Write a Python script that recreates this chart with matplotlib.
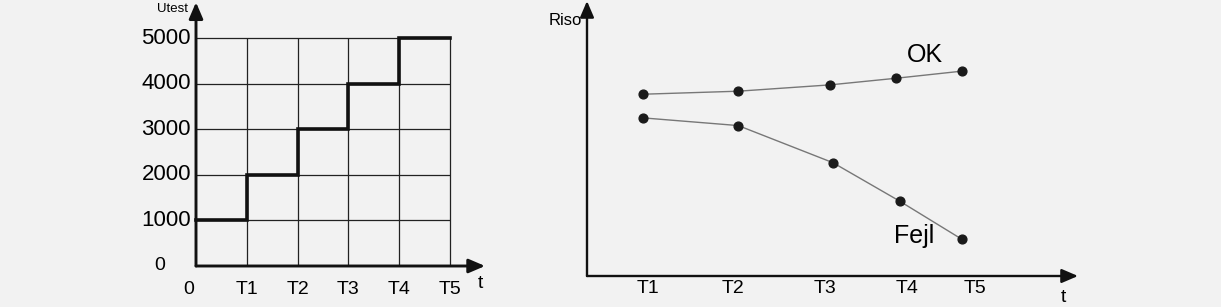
import numpy as np
import matplotlib
matplotlib.use("Agg")
import matplotlib.pyplot as plt

plt.rcParams['font.family'] = ['Liberation Sans', 'DejaVu Sans']

# left chart: test voltage steps
steps_t = [0, 1, 2, 3, 4, 5]
steps_u = [1000, 2000, 3000, 4000, 5000, 5000]
u_ticks = [1000, 2000, 3000, 4000, 5000]
t_labels = ['T1', 'T2', 'T3', 'T4', 'T5']

# right chart: insulation resistance (arbitrary units)
ok_t = [11.4, 30.8, 49.5, 62.9, 76.4]
ok_r = [66.1, 67.2, 69.5, 71.9, 74.5]
fejl_t = [11.4, 30.8, 50.1, 63.7, 76.4]
fejl_r = [57.5, 54.7, 41.2, 27.2, 13.3]
r_tick_pos = [12.4, 29.7, 48.5, 65.2, 79.0]

W, H = 1221, 307
bg = '#f2f2f2'
fig = plt.figure(figsize=(W / 100, H / 100), dpi=100, facecolor=bg)


def place(x0px, y0px, sx, sy, xlim, ylim):
    # axes box from pixel origin and pixel-per-unit scales
    left = x0px + xlim[0] * sx
    right = x0px + xlim[1] * sx
    top = y0px - ylim[1] * sy
    bottom = y0px - ylim[0] * sy
    ax = fig.add_axes([left / W, (H - bottom) / H, (right - left) / W, (bottom - top) / H])
    ax.set_xlim(*xlim)
    ax.set_ylim(*ylim)
    ax.set_facecolor(bg)
    ax.axis('off')
    return ax


def arrows(ax, xend, yend, lw):
    kw = dict(arrowstyle='-|>,head_length=0.7,head_width=0.3', lw=lw, color='#111111',
              mutation_scale=14, shrinkA=0, shrinkB=0)
    ax.annotate('', xy=(xend, 0), xytext=(0, 0), arrowprops=kw, annotation_clip=False)
    ax.annotate('', xy=(0, yend), xytext=(0, 0), arrowprops=kw, annotation_clip=False)


# ---------------- left chart
ax1 = place(196, 266, 50.8, 0.04555, (-1.0, 5.9), (-700, 5850))
ax1.vlines(steps_t[1:], 0, 5000, color='#222222', lw=0.9)
ax1.hlines(u_ticks, 0, 5, color='#222222', lw=0.9)
ax1.plot(steps_t, steps_u, drawstyle='steps-post', color='#111111', lw=2.6,
         solid_joinstyle='miter')
arrows(ax1, 5.69, 5790, 2.1)

for u in u_ticks:
    ax1.text(-0.1, u, str(u), ha='right', va='center', fontsize=16)
ax1.text(-0.71, 0, '0', ha='center', va='center', fontsize=14)
ax1.text(-0.14, -525, '0', ha='center', va='center', fontsize=14)
for t, lab in zip(steps_t[1:], t_labels):
    ax1.text(t, -525, lab, ha='center', va='center', fontsize=14)
ax1.text(5.6, -380, 't', ha='center', va='center', fontsize=14)
ax1.text(-0.47, 5640, 'Utest', ha='center', va='center', fontsize=9.5)

# ---------------- right chart
ax2 = place(587, 276, 4.91, 2.75, (-12, 102), (-12, 101))
ax2.plot(ok_t, ok_r, color='#777777', lw=1.0, zorder=1)
ax2.plot(fejl_t, fejl_r, color='#777777', lw=1.0, zorder=1)
ax2.scatter(ok_t, ok_r, s=40, color='#1a1a1a', zorder=2)
ax2.scatter(fejl_t, fejl_r, s=40, color='#1a1a1a', zorder=2)
arrows(ax2, 100, 100, 1.7)

for x, lab in zip(r_tick_pos, t_labels):
    ax2.text(x, -4.5, lab, ha='center', va='center', fontsize=14)
ax2.text(97.1, -8, 't', ha='center', va='center', fontsize=14)
ax2.text(-1.0, 92.9, 'Riso', ha='right', va='center', fontsize=12)
ax2.text(68.8, 80.2, 'OK', ha='center', va='center', fontsize=18)
ax2.text(66.6, 14.5, 'Fejl', ha='center', va='center', fontsize=18)

fig.savefig('out.png', dpi=100, facecolor=bg)
